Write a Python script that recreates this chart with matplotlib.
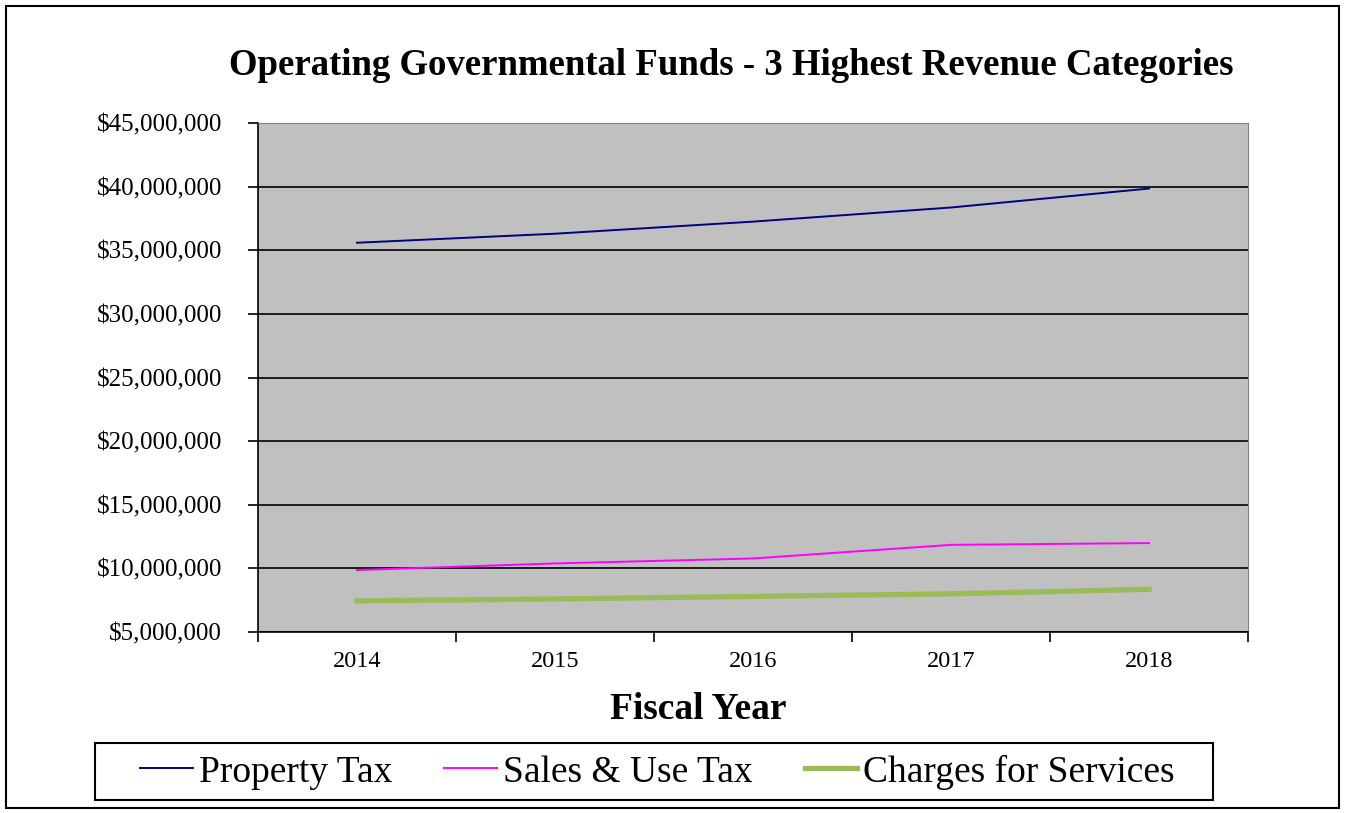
import matplotlib.pyplot as plt
from matplotlib.patches import Rectangle
from matplotlib.ticker import FuncFormatter
import numpy as np

years = ["2014", "2015", "2016", "2017", "2018"]
property_tax = [35590000, 36300000, 37250000, 38360000, 39850000]
sales_use_tax = [9870000, 10390000, 10780000, 11850000, 11990000]
charges_services = [7450000, 7600000, 7800000, 8000000, 8360000]

plt.rcParams['font.family'] = ['Liberation Serif', 'DejaVu Serif']

fig = plt.figure(figsize=(13.45, 8.13), dpi=100)
ax = fig.add_axes([0.1918, 0.2226, 0.7361, 0.6261])
ax.set_facecolor("#c0c0c0")

x = np.arange(len(years))
ax.plot(x, property_tax, color="#000080", lw=1.4, label="Property Tax")
ax.plot(x, sales_use_tax, color="#ff00ff", lw=1.4, label="Sales & Use Tax")
ax.plot(x, charges_services, color="#9bbb59", lw=3.8, label="Charges for Services")

ax.set_ylim(5000000, 45000000)
ax.set_yticks(np.arange(5000000, 45000001, 5000000))
ax.yaxis.set_major_formatter(FuncFormatter(lambda v, p: "${:,.0f}".format(v)))
ax.grid(axis="y", color="black", lw=1.2)
ax.set_axisbelow(True)

ax.set_xlim(-0.5, len(years) - 0.5)
ax.set_xticks(np.arange(-0.5, len(years), 1.0))
ax.set_xticklabels([])
ax.set_xticks(x, minor=True)
ax.set_xticklabels(years, minor=True)
ax.tick_params(axis="x", which="minor", length=0, pad=14, labelsize=17.5)
ax.tick_params(axis="x", which="major", length=7, width=1.2, direction="out")
ax.tick_params(axis="y", length=7, width=1.2, direction="out", labelsize=18, pad=19)

for s in ["top", "right"]:
    ax.spines[s].set_color("#808080")
    ax.spines[s].set_linewidth(0.8)
for s in ["left", "bottom"]:
    ax.spines[s].set_linewidth(1.2)

fig.text(0.519, 0.127, "Fiscal Year", ha="center", va="center",
         fontsize=27, fontweight="bold")
fig.text(0.5439, 0.919, "Operating Governmental Funds - 3 Highest Revenue Categories",
         ha="center", va="center", fontsize=26.5, fontweight="bold")

leg = ax.legend(loc="center", bbox_to_anchor=(0.4888, 0.0504), bbox_transform=fig.transFigure,
                ncol=3, fontsize=27, frameon=False,
                handlelength=1.4, handletextpad=0.15, columnspacing=1.4,
                borderpad=0, borderaxespad=0)

# legend frame and outer chart border
fig.patches.append(Rectangle((95 / 1345, 1 - 800 / 813), 1118 / 1345, 57 / 813,
                             transform=fig.transFigure, fill=False, edgecolor="black", lw=1.5))
fig.patches.append(Rectangle((0.0045, 0.0062), 0.991, 0.9865, transform=fig.transFigure,
                             fill=False, edgecolor="black", lw=1.5))

fig.savefig("out.png", dpi=100)
